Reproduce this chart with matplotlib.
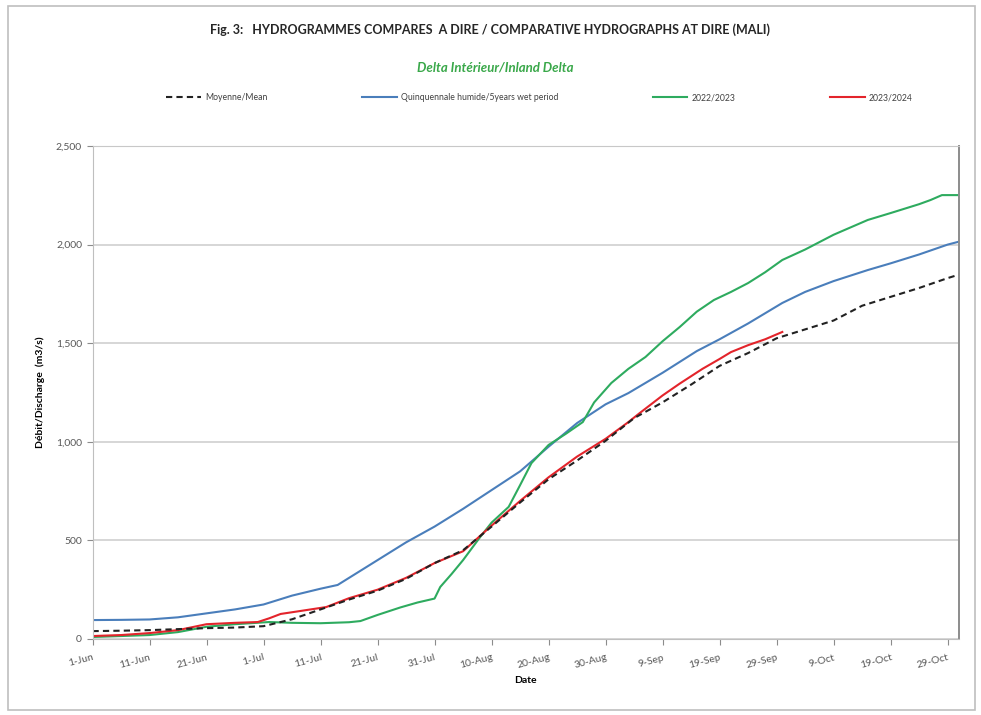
import matplotlib
matplotlib.use("Agg")
import matplotlib.pyplot as plt
from matplotlib.patches import Rectangle
from matplotlib.ticker import FuncFormatter

plt.rcParams["font.family"] = ["Lato", "DejaVu Sans"]

# days counted from 1 June
mean_days = [0, 5, 10, 15, 20, 25, 30, 35, 40, 45, 50, 55, 60, 65, 70, 75, 80, 85, 90,
             95, 100, 105, 110, 115, 120, 125, 130, 135, 140, 145, 150, 152]
mean_q = [40, 42, 45, 50, 55, 58, 65, 100, 150, 200, 245, 305, 385, 450, 570, 692, 810, 905, 1005,
          1120, 1200, 1290, 1385, 1450, 1525, 1570, 1615, 1690, 1735, 1780, 1830, 1848]

wet_days = [0, 5, 10, 15, 20, 25, 30, 35, 40, 43, 45, 50, 55, 60, 65, 70, 75, 80, 85, 90,
            94, 100, 103, 106, 110, 115, 121, 125, 130, 136, 140, 145, 150, 152]
wet_q = [96, 97, 99, 110, 130, 150, 175, 220, 255, 274, 310, 400, 490, 570, 660, 755, 850, 975, 1095, 1190,
         1247, 1350, 1405, 1460, 1520, 1600, 1704, 1760, 1815, 1871, 1905, 1950, 2000, 2015]

y2022_days = [0, 5, 10, 15, 20, 25, 31, 35, 40, 45, 47, 50, 54, 57, 60, 61, 63, 65, 68, 70, 73,
              75, 77, 80, 83, 86, 88, 91, 94, 97, 100, 103, 106, 109, 112, 115, 118, 121, 125,
              130, 136, 140, 145, 147, 149, 152]
y2022_q = [10, 15, 20, 35, 62, 75, 86, 82, 80, 85, 91, 122, 160, 185, 205, 264, 330, 400, 517, 590, 670,
           780, 892, 984, 1040, 1100, 1200, 1298, 1370, 1430, 1510, 1582, 1660, 1719, 1760, 1805, 1860, 1922, 1975,
           2050, 2125, 2160, 2205, 2226, 2251, 2251]

y2023_days = [0, 5, 10, 15, 20, 25, 29, 31, 33, 36, 41, 45, 50, 55, 60, 65, 70, 75, 80, 85, 90,
              94, 96, 100, 103, 107, 110, 112, 115, 118, 121]
y2023_q = [15, 20, 30, 45, 75, 82, 86, 105, 127, 140, 162, 207, 250, 310, 385, 445, 575, 700, 820, 925, 1015,
           1100, 1146, 1235, 1295, 1370, 1420, 1455, 1490, 1520, 1557]

tick_days = list(range(0, 151, 10))
tick_labels = ["1-Jun", "11-Jun", "21-Jun", "1-Jul", "11-Jul", "21-Jul", "31-Jul", "10-Aug",
               "20-Aug", "30-Aug", "9-Sep", "19-Sep", "29-Sep", "9-Oct", "19-Oct", "29-Oct"]

fig = plt.figure(figsize=(9.81, 7.15), dpi=100)
fig.patches.append(Rectangle((0.008, 0.007), 0.986, 0.985, transform=fig.transFigure,
                             fill=False, edgecolor="#bfbfbf", linewidth=1.2))
ax = fig.add_axes([0.0943, 0.1063, 0.8833, 0.6895])

ax.plot(wet_days, wet_q, color="#4a7ebb", lw=1.5, label="Quinquennale humide/5years wet period")
ax.plot(y2022_days, y2022_q, color="#2eab5f", lw=1.5, label="2022/2023")
ax.plot(y2023_days, y2023_q, color="#e3242b", lw=1.5, label="2023/2024")
ax.plot(mean_days, mean_q, color="#222222", lw=1.5, ls=(0, (3, 2)), label="Moyenne/Mean")

ax.set_xlim(0, 152)
ax.set_ylim(0, 2500)
ax.set_yticks(range(0, 2501, 500))
ax.yaxis.set_major_formatter(FuncFormatter(lambda v, _: f"{v:,.0f}"))
ax.set_xticks(tick_days)
ax.set_xticklabels(tick_labels, rotation=15, ha="right", rotation_mode="anchor")
ax.tick_params(axis="both", labelsize=7.5, colors="#8c8c8c", labelcolor="#595959", length=4)
ax.tick_params(axis="x", pad=6)
ax.grid(axis="y", color="#d0d0d0", lw=1.2)
ax.set_axisbelow(True)
for side in ["left", "bottom"]:
    ax.spines[side].set_color("#bfbfbf")
ax.spines["right"].set_color("#8c8c8c")
ax.spines["right"].set_linewidth(1.4)
ax.spines["top"].set_color("#c8c8c8")

ax.set_ylabel("Débit/Discharge  (m3/s)", fontsize=7.5, fontweight="bold", labelpad=8)
ax.set_xlabel("Date", fontsize=7.5, fontweight="bold", labelpad=4)

fig.text(0.5, 0.958, "Fig. 3:   HYDROGRAMMES COMPARES  A DIRE / COMPARATIVE HYDROGRAPHS AT DIRE (MALI)",
         ha="center", va="center", fontsize=9, fontweight="bold", color="#262626")
fig.text(0.505, 0.906, "Delta Intérieur/Inland Delta", ha="center", va="center",
         fontsize=9.5, fontweight="bold", style="italic", color="#3aa84a")

handles, labels = ax.get_legend_handles_labels()
order = [3, 0, 1, 2]
fig.legend([handles[i] for i in order], [labels[i] for i in order], loc="center",
           bbox_to_anchor=(0.55, 0.863), ncol=4, frameon=False, fontsize=6.2,
           handlelength=4.0, handletextpad=0.5, columnspacing=11, labelcolor="#404040")

fig.savefig("out.png", dpi=100)
